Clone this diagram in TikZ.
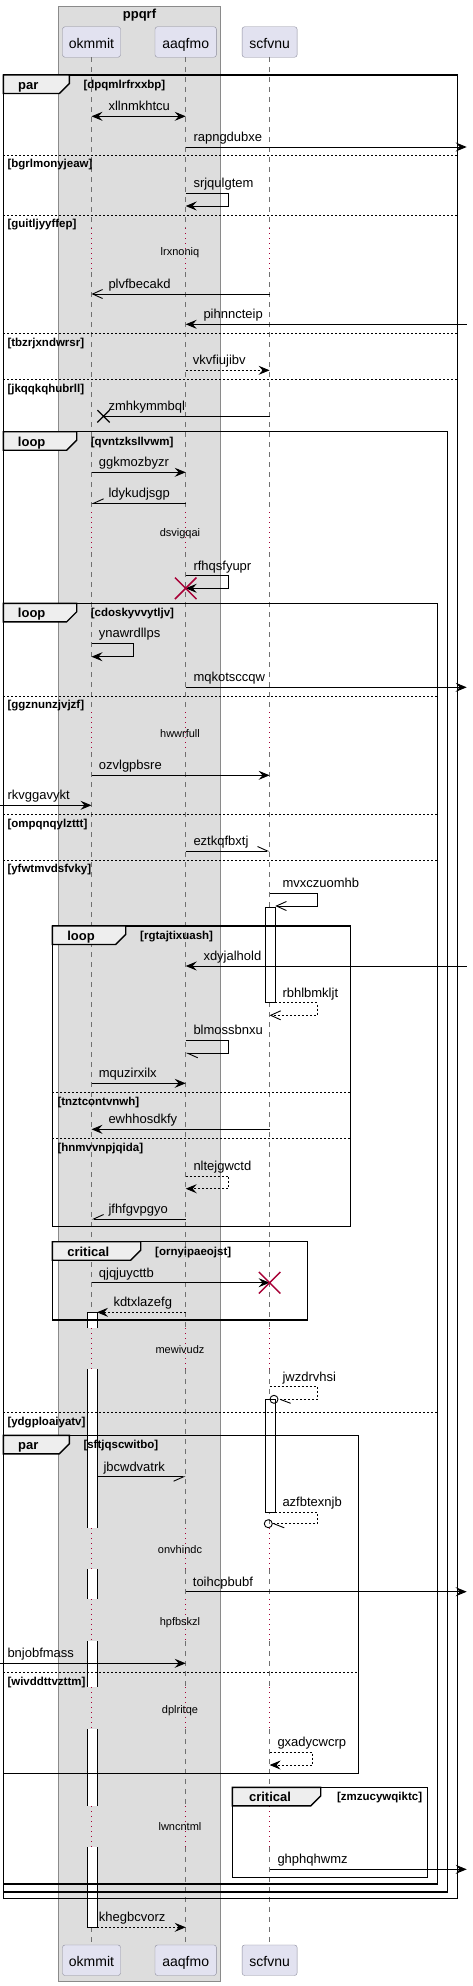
\documentclass[tikz,border=0pt]{standalone}
\usepackage{fontspec}
\setmainfont{Liberation Sans}
\usetikzlibrary{arrows.meta,shapes.misc}
\definecolor{partfill}{HTML}{E2E2F0}
\definecolor{partline}{HTML}{8C8C9C}
\definecolor{grpfill}{HTML}{DDDDDD}
\definecolor{grpline}{HTML}{8A8A8A}
\definecolor{tabfill}{HTML}{EEEEEE}
\definecolor{lifegray}{HTML}{707070}
\definecolor{delayred}{HTML}{A80036}
\newcommand\sqframe[8]{%
  \draw[frameline] (#2,#3) rectangle (#4,#5);
  \draw[tabshape] (#2,#3) -- (#6,#3) -- (#6,#3+8.5) -- (#6-10,#3+18.5) -- (#2,#3+18.5) -- cycle;
  \node[tabname] (#1) at (#8,#3+14.5) {#7};}
\begin{document}
\begin{tikzpicture}[x=1pt,y=-1pt,
 part/.style={draw=partline,fill=partfill,rounded corners=2.5pt,minimum height=30.5pt,inner sep=0pt,text height=15pt,text depth=2.4pt,font=\fontsize{14}{16}\selectfont},
 life/.style={draw=lifegray,line width=0.8pt,dash pattern=on 5pt off 5pt},
 delayline/.style={draw=delayred,line width=0.9pt,dash pattern=on 1pt off 4pt},
 frameline/.style={draw=black,line width=1.4pt},
 tabshape/.style={draw=black,line width=1.4pt,fill=tabfill},
 tabname/.style={anchor=base,inner sep=0pt,font=\bfseries\fontsize{13}{15}\selectfont},
 cond/.style={anchor=base west,inner sep=0pt,font=\bfseries\fontsize{11.5}{13}\selectfont},
 sepline/.style={draw=black,line width=0.8pt,dash pattern=on 2pt off 2pt},
 msg/.style={draw=black,line width=0.9pt},
 dmsg/.style={draw=black,line width=0.9pt,dash pattern=on 2pt off 2pt},
 fa/.style={-{Stealth[length=11pt,width=9pt,inset=4pt]}},
 dfa/.style={{Stealth[length=11pt,width=9pt,inset=4pt]}-{Stealth[length=11pt,width=9pt,inset=4pt]}},
 oa/.style={-{Straight Barb[length=10pt,width=9pt]}},
 hl/.style={-{Straight Barb[length=10pt,width=9pt,left]}},
 hr/.style={-{Straight Barb[length=10pt,width=9pt,right]}},
 actbar/.style={draw=black,fill=white,line width=0.9pt},
 lbl/.style={anchor=base west,inner sep=0pt,font=\fontsize{13}{15}\selectfont},
 dly/.style={anchor=base,inner sep=0pt,font=\fontsize{11}{13}\selectfont},
 redx/.style={cross out,draw=delayred,line width=1.5pt,minimum size=20pt,inner sep=0pt},
 blackx/.style={cross out,draw=black,line width=1.3pt,minimum size=11pt,inner sep=0pt},
 ocirc/.style={circle,draw=black,line width=0.9pt,minimum size=8pt,inner sep=0pt}
]
\fill[white] (0,0) rectangle (472,1986);
\useasboundingbox (0,0) rectangle (472,1986);
% group box
\draw[draw=grpline,fill=grpfill,line width=0.9pt] (58.7,6) rectangle (220.3,1981.7);
\node[anchor=base,inner sep=0pt,font=\bfseries\fontsize{13}{15}\selectfont] (gt) at (139.5,18.5) {ppqrf};
% participants
\node[part,minimum width=58pt] (pA) at (91.5,42) {okmmit};
\node[part,minimum width=61.4pt] (pB) at (185.7,42) {aaqfmo};
\node[part,minimum width=55pt] (pC) at (269.6,42) {scfvnu};
\node[part,minimum width=58pt] (qA) at (91.5,1960.2) {okmmit};
\node[part,minimum width=61.4pt] (qB) at (185.7,1960.2) {aaqfmo};
\node[part,minimum width=55pt] (qC) at (269.6,1960.2) {scfvnu};
\coordinate (R) at (466.7,0);
\coordinate (L) at (0,0);
\coordinate (bAr) at (97,0);
\coordinate (bCr) at (275.3,0);
% lifelines
\foreach \p in {pA,pB,pC}{
  \foreach \a/\b in {57.3/228,272/512,552/712,752/1328,1369/1528,1569/1599,1641/1687,1729/1806,1847/1944.5}{
    \draw[life] (\p |- 0,\a) -- (\p |- 0,\b);}
  \foreach \a/\b in {228/272,512/552,712/752,1328/1369,1528/1569,1599/1641,1687/1729,1806/1847}{
    \draw[delayline] (\p |- 0,\a) -- (\p |- 0,\b);}
}
% activation bars
\foreach \a/\b in {1312.3/1328,1369/1528,1569/1599,1641/1687,1729/1806,1847/1927.3}{
  \fill[white] (87,\a) rectangle (97,\b);
  \draw[msg] (87,\a) -- (87,\b) (97,\a) -- (97,\b);}
\draw[msg] (87,1312.3) -- (97,1312.3);
\draw[msg] (87,1927.3) -- (97,1927.3);
\draw[actbar] (265.3,907) rectangle (275.3,1002.7);
\draw[actbar] (265.3,1399.3) rectangle (275.3,1512);
% frames
\sqframe{f1}{3.3}{75}{457.3}{1898.3}{69.3}{par}{28.3}
\node[cond] (c1) at (83.3,88.4) {[dpqmlrfrxxbp]};
\sqframe{f2}{3.3}{431.7}{447.3}{1892}{76.7}{loop}{31.7}
\node[cond] (c2) at (90.7,445.1) {[qvntzksllvwm]};
\sqframe{f3}{3.3}{603.3}{437.7}{1884}{76.7}{loop}{31.7}
\node[cond] (c3) at (90.7,616.7) {[cdoskyvvytljv]};
\sqframe{f4}{52.3}{926}{350.3}{1226.7}{125.7}{loop}{81}
\node[cond] (c4) at (140,939.4) {[rgtajtixuash]};
\sqframe{f5}{52.3}{1241.7}{307.3}{1320}{140.7}{critical}{88.3}
\node[cond] (c5) at (155,1255.1) {[ornyipaeojst]};
\sqframe{f6}{3.3}{1435.3}{358.7}{1773.3}{69.3}{par}{28.3}
\node[cond] (c6) at (83.3,1448.7) {[sftjqscwitbo]};
\sqframe{f7}{232.3}{1787.3}{427.7}{1877.7}{320.7}{critical}{270}
\node[cond,anchor=base east] (c7) at (422.3,1800.7) {[zmzucywqiktc]};
% separators
\draw[sepline] (3.3,155) -- (457.3,155);
\node[cond] (s1) at (7.3,167.7) {[bgrlmonyjeaw]};
\draw[sepline] (3.3,215) -- (457.3,215);
\node[cond] (s2) at (7.3,227.7) {[guitljyyffep]};
\draw[sepline] (3.3,333.3) -- (457.3,333.3);
\node[cond] (s3) at (7.3,346) {[tbzrjxndwrsr]};
\draw[sepline] (3.3,379.3) -- (457.3,379.3);
\node[cond] (s4) at (7.3,392) {[jkqqkqhubrll]};
\draw[sepline] (3.3,696) -- (437.7,696);
\node[cond] (s5) at (7.3,708.7) {[ggznunzjvjzf]};
\draw[sepline] (3.3,814.3) -- (437.7,814.3);
\node[cond] (s6) at (7.3,827) {[ompqnqylzttt]};
\draw[sepline] (3.3,860) -- (437.7,860);
\node[cond] (s7) at (7.3,872.7) {[yfwtmvdsfvky]};
\draw[sepline] (52.3,1092.3) -- (350.3,1092.3);
\node[cond] (s8) at (57.3,1105) {[tnztcontvnwh]};
\draw[sepline] (52.3,1138.3) -- (350.3,1138.3);
\node[cond] (s9) at (57.3,1151) {[hnmvvnpjqida]};
\draw[sepline] (3.3,1412.7) -- (437.7,1412.7);
\node[cond] (s10) at (7.3,1425.4) {[ydgploaiyatv]};
\draw[sepline] (3.3,1672.3) -- (358.7,1672.3);
\node[cond] (s11) at (7.3,1685) {[wivddttvzttm]};
% delays
\node[dly] (d1) at (180,255.7) {lrxnoniq};
\node[dly] (d2) at (180,536.7) {dsvigqai};
\node[dly] (d3) at (180,737.3) {hwwrfull};
\node[dly] (d4) at (180,1353.3) {mewivudz};
\node[dly] (d5) at (180,1553.3) {onvhindc};
\node[dly] (d6) at (180,1625.7) {hpfbskzl};
\node[dly] (d7) at (180,1713.3) {dplritqe};
\node[dly] (d8) at (180,1830.7) {lwncntml};
% messages
\draw[msg,dfa] (pA |- 0,116.3) -- (pB |- 0,116.3);
\node[lbl] (t1) at (108.3,110.8) {xllnmkhtcu};
\draw[msg,fa] (pB |- 0,147) -- (R |- 0,147);
\node[lbl] (t2) at (193.3,141.5) {rapngdubxe};
\draw[msg,fa] (pB |- 0,193.3) -- ++(42.8,0) -- ++(0,12.7) -- (pB |- 0,206);
\node[lbl] (t3) at (193.3,187.8) {srjqulgtem};
\draw[msg,oa] (pC |- 0,294) -- (pA |- 0,294);
\node[lbl] (t4) at (108.3,288.5) {plvfbecakd};
\draw[msg,fa] (R |- 0,324.3) -- (pB |- 0,324.3);
\node[lbl] (t5) at (203.3,318.8) {pihnncteip};
\draw[dmsg,fa] (pB |- 0,370.3) -- (pC |- 0,370.3);
\node[lbl] (t6) at (192.7,364.8) {vkvfiujibv};
\node[blackx] (x1) at (103.5,416.3) {};
\draw[msg] (pC |- 0,416.3) -- (x1.center);
\node[lbl] (t7) at (108.3,410.8) {zmhkymmbql};
\draw[msg,fa] (pA |- 0,472.3) -- (pB |- 0,472.3);
\node[lbl] (t8) at (98.7,466.8) {ggkmozbyzr};
\draw[msg,hr] (pB |- 0,503.3) -- (pA |- 0,503.3);
\node[lbl] (t9) at (108.3,497.8) {ldykudjsgp};
\draw[msg,fa] (pB |- 0,575.7) -- ++(42.8,0) -- ++(0,12.6) -- (pB |- 0,588.3);
\node[redx] (x2) at (pB |- 0,588.3) {};
\node[lbl] (t10) at (193.3,570.2) {rfhqsfyupr};
\draw[msg,fa] (pA |- 0,643.3) -- ++(41.8,0) -- ++(0,13.4) -- (pA |- 0,656.7);
\node[lbl] (t11) at (98.7,637.8) {ynawrdllps};
\draw[msg,fa] (pB |- 0,687.3) -- (R |- 0,687.3);
\node[lbl] (t12) at (193.3,681.8) {mqkotsccqw};
\draw[msg,fa] (pA |- 0,775.3) -- (pC |- 0,775.3);
\node[lbl] (t13) at (98.7,769.8) {ozvlgpbsre};
\draw[msg,fa] (L |- 0,805.3) -- (pA |- 0,805.3);
\node[lbl] (t14) at (7.3,799.8) {rkvggavykt};
\draw[msg,hl] (pB |- 0,851) -- (pC |- 0,851);
\node[lbl] (t15) at (193.3,845.5) {eztkqfbxtj};
\draw[msg,oa] (pC |- 0,893.3) -- ++(47.8,0) -- ++(0,12.7) -- (bCr |- 0,906);
\node[lbl] (t16) at (282.3,887.8) {mvxczuomhb};
\draw[msg,fa] (R |- 0,966) -- (pB |- 0,966);
\node[lbl] (t17) at (203.3,960.5) {xdyjalhold};
\draw[dmsg,oa] (bCr |- 0,1002.7) -- ++(42,0) -- ++(0,12.6) -- (pC |- 0,1015.3);
\node[lbl] (t18) at (282.3,997.2) {rbhlbmkljt};
\draw[msg,hl] (pB |- 0,1040.3) -- ++(42.8,0) -- ++(0,13) -- (pB |- 0,1053.3);
\node[lbl] (t19) at (193.3,1034.8) {blmossbnxu};
\draw[msg,fa] (pA |- 0,1083.3) -- (pB |- 0,1083.3);
\node[lbl] (t20) at (98.7,1077.8) {mquzirxilx};
\draw[msg,fa] (pC |- 0,1129.3) -- (pA |- 0,1129.3);
\node[lbl] (t21) at (108.3,1123.8) {ewhhosdkfy};
\draw[dmsg,fa] (pB |- 0,1176) -- ++(42.8,0) -- ++(0,12.7) -- (pB |- 0,1188.7);
\node[lbl] (t22) at (193.3,1170.5) {nltejgwctd};
\draw[msg,hr] (pB |- 0,1219) -- (pA |- 0,1219);
\node[lbl] (t23) at (108.3,1213.5) {jfhfgvpgyo};
\draw[msg,fa] (pA |- 0,1282.7) -- (pC |- 0,1282.7);
\node[redx] (x3) at (pC |- 0,1282.7) {};
\node[lbl] (t24) at (98.7,1277.2) {qjqjuycttb};
\draw[dmsg,fa] (pB |- 0,1312.3) -- (bAr |- 0,1312.3);
\node[lbl] (t25) at (113.3,1306.8) {kdtxlazefg};
\node[ocirc] (o1) at (274,1399.3) {};
\draw[dmsg] (pC |- 0,1386.7) -- ++(47.8,0) -- ++(0,12.6) -- (o1.east);
\draw[msg] (280,1399.3) -- (290.7,1403.3);
\node[lbl] (t26) at (282.3,1381.2) {jwzdrvhsi};
\draw[msg,hr] (bAr |- 0,1476.7) -- (pB |- 0,1476.7);
\node[lbl] (t27) at (103.3,1471.2) {jbcwdvatrk};
\node[ocirc] (o2) at (268.3,1523.7) {};
\draw[dmsg] (bCr |- 0,1512) -- ++(42,0) -- ++(0,11.7) -- (o2.east);
\draw[msg] (273.8,1523.7) -- (284.3,1527.8);
\node[lbl] (t28) at (282.3,1506.5) {azfbtexnjb};
\draw[msg,fa] (pB |- 0,1591.7) -- (R |- 0,1591.7);
\node[lbl] (t29) at (192.7,1586.2) {toihcpbubf};
\draw[msg,fa] (L |- 0,1663.3) -- (pB |- 0,1663.3);
\node[lbl] (t30) at (7.3,1657.8) {bnjobfmass};
\draw[dmsg,fa] (pC |- 0,1752.3) -- ++(42.8,0) -- ++(0,12.7) -- (pC |- 0,1765);
\node[lbl] (t31) at (277.3,1746.8) {gxadycwcrp};
\draw[msg,fa] (pC |- 0,1869.3) -- (R |- 0,1869.3);
\node[lbl] (t32) at (277.3,1863.8) {ghphqhwmz};
\draw[dmsg,fa] (bAr |- 0,1927.3) -- (pB |- 0,1927.3);
\node[lbl] (t33) at (98.7,1921.8) {khegbcvorz};
\end{tikzpicture}
\end{document}
